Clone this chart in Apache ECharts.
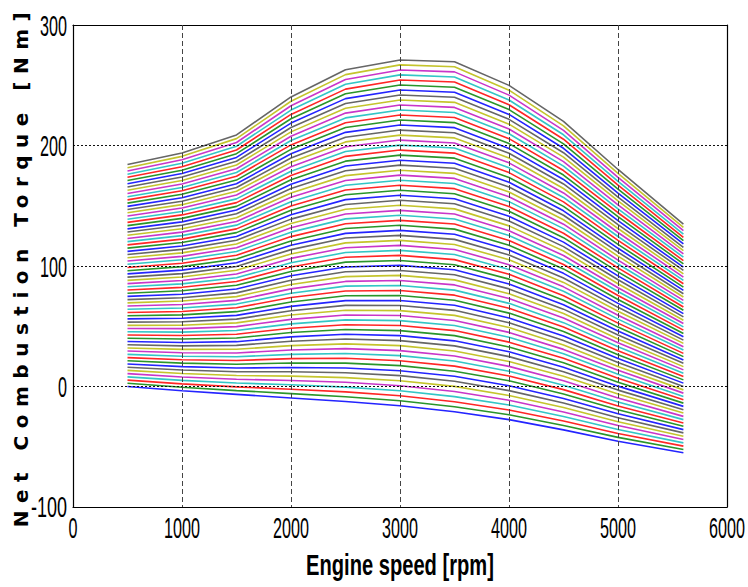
<!DOCTYPE html>
<html>
<head>
<meta charset="utf-8">
<script src="https://cdn.jsdelivr.net/npm/echarts@6/dist/echarts.min.js"></script>
<style>
html,body{margin:0;padding:0;background:#fff;}
#chart{width:748px;height:587px;}
</style>
</head>
<body>
<div id="chart"></div>
<script>
// Engine speeds (rpm) at which each torque curve is sampled
const speeds = [500, 1000, 1500, 2000, 2500, 3000, 3500, 4000, 4500, 5000, 5600];

// Net combustion torque (Nm) of the 70 curves (bottom -> top) at each speed
const torqueAt500 = [
  0,2.7,5.3,8.0,10.7,13.4,16.0,18.7,21.4,24.0,
  26.7,29.4,32.0,34.7,37.4,40.1,42.7,45.4,48.1,50.7,
  53.4,56.1,58.7,61.4,64.1,66.8,69.4,72.1,74.8,77.4,
  80.1,82.8,85.4,88.1,90.8,93.5,96.1,98.8,101.5,104.1,
  106.8,109.5,112.1,114.8,117.5,120.2,122.8,125.5,128.2,130.8,
  133.5,136.2,138.8,141.5,144.2,146.9,149.5,152.2,154.9,157.5,
  160.2,162.9,165.5,168.2,170.9,173.6,176.2,178.9,181.6,184.2];
const torqueAt1000 = [
  -3.5,-0.6,2.2,5.1,7.9,10.8,13.7,16.5,19.4,22.2,
  25.1,28.0,30.8,33.7,36.5,39.4,42.3,45.1,48.0,50.8,
  53.7,56.6,59.4,62.3,65.1,68.0,70.9,73.7,76.6,79.4,
  82.3,85.2,88.0,90.9,93.7,96.6,99.5,102.3,105.2,108.0,
  110.9,113.8,116.6,119.5,122.3,125.2,128.1,130.9,133.8,136.6,
  139.5,142.4,145.2,148.1,150.9,153.8,156.7,159.5,162.4,165.2,
  168.1,171.0,173.8,176.7,179.5,182.4,185.3,188.1,191.0,193.8];
const torqueAt1500 = [
  -6.5,-3.4,-0.3,2.9,6.0,9.1,12.2,15.3,18.5,21.6,
  24.7,27.8,30.9,34.1,37.2,40.3,43.4,46.5,49.7,52.8,
  55.9,59.0,62.1,65.3,68.4,71.5,74.6,77.7,80.9,84.0,
  87.1,90.2,93.3,96.5,99.6,102.7,105.8,108.9,112.1,115.2,
  118.3,121.4,124.5,127.7,130.8,133.9,137.0,140.1,143.3,146.4,
  149.5,152.6,155.7,158.9,162.0,165.1,168.2,171.3,174.5,177.6,
  180.7,183.8,186.9,190.1,193.2,196.3,199.4,202.5,205.7,208.8];
const torqueAt2000 = [
  -9.5,-5.9,-2.3,1.4,5.0,8.6,12.2,15.8,19.5,23.1,
  26.7,30.3,33.9,37.6,41.2,44.8,48.4,52.0,55.7,59.3,
  62.9,66.5,70.1,73.8,77.4,81.0,84.6,88.2,91.9,95.5,
  99.1,102.7,106.3,110.0,113.6,117.2,120.8,124.4,128.1,131.7,
  135.3,138.9,142.5,146.2,149.8,153.4,157.0,160.6,164.3,167.9,
  171.5,175.1,178.7,182.4,186.0,189.6,193.2,196.8,200.5,204.1,
  207.7,211.3,214.9,218.6,222.2,225.8,229.4,233.0,236.7,240.3];
const torqueAt2500 = [
  -12.5,-8.5,-4.5,-0.5,3.5,7.4,11.4,15.4,19.4,23.4,
  27.4,31.4,35.4,39.4,43.4,47.3,51.3,55.3,59.3,63.3,
  67.3,71.3,75.3,79.3,83.3,87.2,91.2,95.2,99.2,103.2,
  107.2,111.2,115.2,119.2,123.2,127.1,131.1,135.1,139.1,143.1,
  147.1,151.1,155.1,159.1,163.1,167.0,171.0,175.0,179.0,183.0,
  187.0,191.0,195.0,199.0,203.0,206.9,210.9,214.9,218.9,222.9,
  226.9,230.9,234.9,238.9,242.9,246.8,250.8,254.8,258.8,262.8];
const torqueAt3000 = [
  -16.0,-11.8,-7.7,-3.5,0.6,4.8,9.0,13.1,17.3,21.4,
  25.6,29.8,33.9,38.1,42.2,46.4,50.6,54.7,58.9,63.0,
  67.2,71.4,75.5,79.7,83.8,88.0,92.2,96.3,100.5,104.6,
  108.8,113.0,117.1,121.3,125.4,129.6,133.8,137.9,142.1,146.2,
  150.4,154.6,158.7,162.9,167.0,171.2,175.4,179.5,183.7,187.8,
  192.0,196.2,200.3,204.5,208.6,212.8,217.0,221.1,225.3,229.4,
  233.6,237.8,241.9,246.1,250.2,254.4,258.6,262.7,266.9,271.0];
const torqueAt3500 = [
  -21.0,-16.8,-12.6,-8.4,-4.2,0.1,4.3,8.5,12.7,16.9,
  21.1,25.3,29.5,33.7,37.9,42.2,46.4,50.6,54.8,59.0,
  63.2,67.4,71.6,75.8,80.0,84.3,88.5,92.7,96.9,101.1,
  105.3,109.5,113.7,117.9,122.1,126.4,130.6,134.8,139.0,143.2,
  147.4,151.6,155.8,160.0,164.2,168.5,172.7,176.9,181.1,185.3,
  189.5,193.7,197.9,202.1,206.3,210.6,214.8,219.0,223.2,227.4,
  231.6,235.8,240.0,244.2,248.4,252.7,256.9,261.1,265.3,269.5];
const torqueAt4000 = [
  -27.5,-23.5,-19.5,-15.4,-11.4,-7.4,-3.4,0.6,4.7,8.7,
  12.7,16.7,20.7,24.8,28.8,32.8,36.8,40.8,44.9,48.9,
  52.9,56.9,60.9,65.0,69.0,73.0,77.0,81.0,85.1,89.1,
  93.1,97.1,101.1,105.2,109.2,113.2,117.2,121.2,125.3,129.3,
  133.3,137.3,141.3,145.4,149.4,153.4,157.4,161.4,165.5,169.5,
  173.5,177.5,181.5,185.6,189.6,193.6,197.6,201.6,205.7,209.7,
  213.7,217.7,221.7,225.8,229.8,233.8,237.8,241.8,245.9,249.9];
const torqueAt4500 = [
  -36.0,-32.3,-28.6,-24.9,-21.2,-17.5,-13.7,-10.0,-6.3,-2.6,
  1.1,4.8,8.5,12.2,15.9,19.7,23.4,27.1,30.8,34.5,
  38.2,41.9,45.6,49.3,53.0,56.8,60.5,64.2,67.9,71.6,
  75.3,79.0,82.7,86.4,90.1,93.9,97.6,101.3,105.0,108.7,
  112.4,116.1,119.8,123.5,127.2,131.0,134.7,138.4,142.1,145.8,
  149.5,153.2,156.9,160.6,164.3,168.1,171.8,175.5,179.2,182.9,
  186.6,190.3,194.0,197.7,201.4,205.2,208.9,212.6,216.3,220.0];
const torqueAt5000 = [
  -45.5,-42.2,-39.0,-35.7,-32.4,-29.2,-25.9,-22.6,-19.3,-16.1,
  -12.8,-9.5,-6.3,-3.0,0.3,3.6,6.8,10.1,13.4,16.6,
  19.9,23.2,26.4,29.7,33.0,36.3,39.5,42.8,46.1,49.3,
  52.6,55.9,59.1,62.4,65.7,69.0,72.2,75.5,78.8,82.0,
  85.3,88.6,91.8,95.1,98.4,101.7,104.9,108.2,111.5,114.7,
  118.0,121.3,124.5,127.8,131.1,134.4,137.6,140.9,144.2,147.4,
  150.7,154.0,157.2,160.5,163.8,167.1,170.3,173.6,176.9,180.1];
const torqueAt5600 = [
  -55.0,-52.3,-49.5,-46.8,-44.0,-41.3,-38.5,-35.8,-33.0,-30.3,
  -27.5,-24.8,-22.0,-19.3,-16.5,-13.8,-11.0,-8.3,-5.5,-2.8,
  0.0,2.8,5.5,8.3,11.0,13.8,16.5,19.3,22.0,24.8,
  27.5,30.3,33.0,35.8,38.5,41.3,44.0,46.8,49.5,52.3,
  55.0,57.8,60.5,63.3,66.0,68.8,71.5,74.3,77.0,79.8,
  82.5,85.3,88.0,90.8,93.5,96.3,99.0,101.8,104.5,107.3,
  110.0,112.8,115.5,118.3,121.0,123.8,126.5,129.3,132.0,134.8];

const xTickValues = [0, 1000, 2000, 3000, 4000, 5000, 6000];
const yTickValues = [-100, 0, 100, 200, 300];
const xTitle = 'Engine speed [rpm]';
const yTitle = 'Net Combustion Torque [Nm]';

// MATLAB-style colour order (b, g, r, c, m, y, k), cycling from the bottom curve
const lineColors = ['#2424ff', '#2a952a', '#ff2626', '#33c6c6', '#c936c9', '#c4c42c', '#666666'];

const torqueBySpeed = [torqueAt500, torqueAt1000, torqueAt1500, torqueAt2000, torqueAt2500,
  torqueAt3000, torqueAt3500, torqueAt4000, torqueAt4500, torqueAt5000, torqueAt5600];

const series = [];
for (let i = 0; i < torqueAt500.length; i++) {
  series.push({
    type: 'line',
    xAxisIndex: 0,
    yAxisIndex: 0,
    data: speeds.map((s, j) => [s, torqueBySpeed[j][i]]),
    symbol: 'none',
    showSymbol: false,
    silent: true,
    animation: false,
    z: 2,
    lineStyle: { width: 1.6, color: lineColors[i % lineColors.length] }
  });
}

const labelFont = "'Liberation Sans', Arial, 'DejaVu Sans', sans-serif";

const chart = echarts.init(document.getElementById('chart'), null, { renderer: 'svg' });
chart.setOption({
  animation: false,
  backgroundColor: '#fff',
  grid: { left: 73, right: 21, top: 25, bottom: 80, containLabel: false, outerBoundsMode: 'none' },
  xAxis: [{
    type: 'value',
    min: xTickValues[0], max: xTickValues[xTickValues.length - 1], interval: 1000,
    position: 'bottom',
    z: 5,
    axisLine: { show: true, onZero: false, lineStyle: { color: '#000', width: 1.2 } },
    axisTick: { show: false },
    axisLabel: { formatter: v => String(v), fontFamily: labelFont, fontSize: 30, color: '#000', margin: 5, hideOverlap: false },
    splitLine: { show: true, showMinLine: false, showMaxLine: false, lineStyle: { type: [5, 3], color: '#444', width: 1 } },
    name: xTitle,
    nameLocation: 'middle',
    nameGap: 42,
    nameMoveOverlap: false,
    nameTextStyle: { fontFamily: labelFont, fontWeight: 'bold', fontSize: 30, color: '#000' }
  }, {
    type: 'value',
    min: xTickValues[0], max: xTickValues[xTickValues.length - 1], interval: 1000,
    position: 'top',
    axisLine: { show: true, onZero: false, lineStyle: { color: '#000', width: 1.2 } },
    axisTick: { show: false }, axisLabel: { show: false }, splitLine: { show: false }
  }],
  yAxis: [{
    type: 'value',
    min: yTickValues[0], max: yTickValues[yTickValues.length - 1], interval: 100,
    z: 5,
    axisLine: { show: true, onZero: false, lineStyle: { color: '#000', width: 1.2 } },
    axisTick: { show: false },
    axisLabel: { formatter: v => String(v), fontFamily: labelFont, fontSize: 30, color: '#000', margin: 6, hideOverlap: false },
    splitLine: { show: true, showMinLine: false, showMaxLine: false, lineStyle: { type: [2, 2], color: '#111', width: 1 } },
    name: yTitle,
    nameLocation: 'middle',
    nameGap: 42,
    nameRotate: 90,
    nameMoveOverlap: false,
    nameTextStyle: { fontFamily: "'DejaVu Sans', sans-serif", fontWeight: 'bold', fontSize: 20, color: '#000' }
  }, {
    type: 'value',
    min: yTickValues[0], max: yTickValues[yTickValues.length - 1], interval: 100,
    position: 'right',
    axisLine: { show: true, onZero: false, lineStyle: { color: '#000', width: 1.2 } },
    axisTick: { show: false }, axisLabel: { show: false }, splitLine: { show: false }
  }],
  series: series
});

// MATLAB-like text shapes: condensed tall tick labels and x title (horizontal scale about
// each text's own anchor point), widely spaced y title
function squeezeText(t, targetWidth) {
  const natural = t.getComputedTextLength();
  if (!natural) return;
  const sx = targetWidth / natural;
  const x = parseFloat(t.getAttribute('x') || '0');
  const y = parseFloat(t.getAttribute('y') || '0');
  const old = t.getAttribute('transform') || '';
  t.setAttribute('transform', old + ' translate(' + x + ' ' + y + ') scale(' + sx + ' 1) translate(' + (-x) + ' ' + (-y) + ')');
}
document.querySelectorAll('#chart text').forEach(t => {
  const s = t.textContent;
  if (s === yTitle) {
    t.setAttribute('letter-spacing', '7.5');
  } else if (s === xTitle) {
    squeezeText(t, 188);
  } else if (/^-?\d+$/.test(s)) {
    squeezeText(t, s.length * 9);
  }
});
</script>
</body>
</html>
